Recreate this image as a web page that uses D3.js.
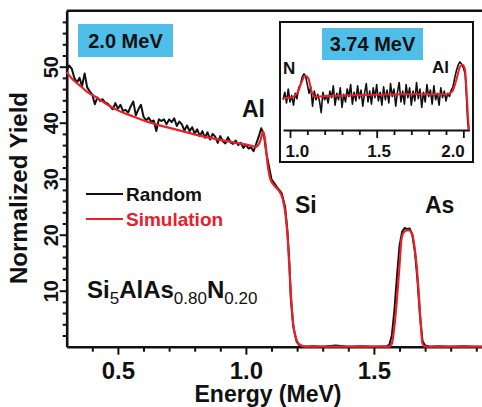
<!DOCTYPE html>
<html>
<head>
<meta charset="utf-8">
<script src="https://cdn.jsdelivr.net/npm/d3@7"></script>
<style>
  body { margin: 0; background: #fff; }
  svg { display: block; font-family: "Liberation Sans", Arial, sans-serif; }
  .axis path, .axis line { stroke: #111; }
</style>
</head>
<body>
<svg id="chart" width="482" height="407"></svg>
<script>
// main spectrum, 2.0 MeV, [energy MeV, normalized yield]
let mainRandom = [[0.30,49.4],[0.31,50.2],[0.32,49.6],[0.33,48.0],[0.34,47.2],[0.35,48.0],[0.36,46.5],[0.37,48.8],[0.38,46.3],[0.39,45.6],
    [0.40,45.0],[0.41,43.3],[0.42,44.5],[0.43,43.9],[0.44,44.2],[0.45,43.6],[0.46,43.4],[0.47,42.9],[0.48,42.4],[0.49,43.5],
    [0.50,42.5],[0.51,43.2],[0.52,42.1],[0.53,42.3],[0.54,41.8],[0.55,42.9],[0.56,43.8],[0.57,41.3],[0.58,42.4],[0.59,43.2],
    [0.60,41.1],[0.61,40.4],[0.62,40.9],[0.63,40.2],[0.64,40.4],[0.65,38.5],[0.66,40.6],[0.67,40.3],[0.68,40.6],[0.69,39.7],
    [0.70,40.6],[0.71,40.1],[0.72,40.8],[0.73,39.4],[0.74,40.2],[0.75,39.7],[0.76,38.6],[0.77,39.5],[0.78,38.5],[0.79,39.2],
    [0.80,38.1],[0.81,38.8],[0.82,37.6],[0.83,38.5],[0.84,37.3],[0.85,38.3],[0.86,37.0],[0.87,38.0],[0.88,37.5],[0.89,36.4],
    [0.90,37.6],[0.91,36.7],[0.92,36.3],[0.93,37.4],[0.94,36.5],[0.95,36.2],[0.96,36.8],[0.97,36.0],[0.98,36.4],[0.99,35.5],
    [1.00,36.1],[1.01,35.4],[1.02,35.6],[1.03,34.9],[1.04,36.2],[1.05,37.5],[1.06,39.0],[1.07,37.9],[1.08,34.5],[1.088,32.7],
    [1.10,29.9],[1.12,28.6],[1.14,27.4],[1.153,25.0],[1.162,20.8],[1.17,14.9],[1.175,8.9],[1.185,3.6],[1.198,0.9],[1.21,0.2],
    [1.23,0],[1.26,0.1],[1.30,0],[1.35,0.2],[1.40,0],[1.45,0.1],[1.50,0],[1.55,0.1],[1.56,0.3],[1.57,2.0],[1.58,6.5],
    [1.59,12.5],[1.60,18.0],[1.61,20.5],[1.62,21.2],[1.63,21.0],[1.64,21.1],[1.65,20.0],[1.66,17.0],[1.67,12.0],[1.68,5.5],
    [1.69,1.0],[1.70,0.2],[1.72,0],[1.75,0.1],[1.80,0],[1.85,0.1],[1.90,0],[1.95,0]]

let mainSimulation = [[0.30,49.0],[0.32,47.9],[0.35,46.7],[0.38,45.5],[0.42,44.4],[0.46,43.2],[0.50,42.2],[0.56,41.1],
    [0.62,40.1],[0.69,39.2],[0.75,38.5],[0.82,37.7],[0.88,37.1],[0.95,36.5],[1.01,36.0],[1.04,35.7],[1.055,36.6],
    [1.068,38.4],[1.076,36.5],[1.085,32.5],[1.095,30.0],[1.11,28.8],[1.13,27.8],[1.145,26.2],[1.155,23.5],[1.163,19.5],
    [1.17,14.0],[1.177,8.5],[1.185,4.0],[1.195,1.6],[1.205,0.6],[1.22,0.15],[1.24,0],[1.56,0],[1.57,0.5],[1.58,3.6],
    [1.59,8.5],[1.60,14.5],[1.608,19.3],[1.618,20.5],[1.635,20.8],[1.648,20.3],[1.658,18.0],[1.667,14.5],[1.676,9.0],
    [1.684,3.5],[1.69,0.5],[1.70,0],[1.95,0]]

// inset spectrum, 3.74 MeV (arbitrary yield units)
let insetRandom = [[0.96,14.0],[0.97,17.5],[0.98,12.5],[0.99,19.0],[1.00,13.0],[1.01,16.0],[1.02,11.5],[1.03,17.0],[1.04,14.5],
    [1.05,19.5],[1.06,21.0],[1.07,24.5],[1.08,26.0],[1.09,25.0],[1.10,21.0],[1.11,17.0],[1.12,20.0],[1.13,11.0],[1.14,18.0],
    [1.15,14.0],[1.16,16.5],[1.17,13.5],[1.18,8.0],[1.19,17.5],[1.20,14.0],[1.21,16.0],[1.22,12.5],[1.23,18.0],[1.24,15.0],
    [1.25,20.5],[1.26,11.5],[1.27,17.0],[1.28,14.0],[1.29,19.5],[1.30,10.5],[1.31,16.5],[1.32,13.0],[1.33,19.0],[1.34,15.5],
    [1.35,21.0],[1.36,12.0],[1.37,17.5],[1.38,13.5],[1.39,20.5],[1.40,14.5],[1.41,18.5],[1.42,11.0],[1.43,17.0],[1.44,21.5],
    [1.45,13.0],[1.46,18.0],[1.47,12.0],[1.48,19.5],[1.49,15.0],[1.50,21.0],[1.51,13.5],[1.52,17.5],[1.53,11.5],[1.54,20.0],
    [1.55,14.0],[1.56,18.5],[1.57,12.5],[1.58,21.5],[1.59,15.5],[1.60,19.0],[1.61,11.0],[1.62,17.5],[1.63,22.0],[1.64,13.0],
    [1.65,18.0],[1.66,12.0],[1.67,21.0],[1.68,15.0],[1.69,19.5],[1.70,11.5],[1.71,18.0],[1.72,13.5],[1.73,22.0],[1.74,14.5],
    [1.75,19.0],[1.76,10.5],[1.77,17.5],[1.78,13.0],[1.79,21.0],[1.80,15.5],[1.81,18.5],[1.82,12.0],[1.83,20.5],[1.84,14.0],
    [1.85,17.0],[1.86,11.5],[1.87,19.5],[1.88,15.0],[1.89,18.0],[1.90,13.5],[1.91,17.0],[1.92,15.5],[1.93,18.5],[1.94,20.0],
    [1.95,24.0],[1.96,27.5],[1.97,30.0],[1.98,31.5],[1.99,30.5],[2.00,29.0],[2.01,26.0],[2.015,20.0],[2.02,12.0],[2.025,4.0],[2.03,0]]

let insetSimulation = [[0.96,14.7],[1.00,14.9],[1.02,15.4],[1.045,17.5],[1.068,22.4],[1.087,25.1],[1.106,23.9],[1.125,17.7],
    [1.145,15.4],[1.23,15.7],[1.42,16.2],[1.71,16.5],[1.90,16.5],[1.935,17.7],[1.962,23.9],[1.981,29.3],[1.997,30.1],
    [2.01,27.8],[2.02,16.2],[2.029,3.8],[2.033,0]]

let mainMajorX = [0.5, 1.0, 1.5]
let mainMinorX = [0.4, 0.6, 0.7, 0.8, 0.9, 1.1, 1.2, 1.3, 1.4, 1.6, 1.7, 1.8, 1.9]
let mainMajorY = [10, 20, 30, 40, 50]
let mainMinorY = [2, 4, 6, 8, 12, 14, 16, 18, 22, 24, 26, 28, 32, 34, 36, 38, 42, 44, 46, 48, 52, 54, 56, 58]
let insetMajorX = [1.0, 1.5, 2.0]
let insetMinorX = [1.1, 1.2, 1.3, 1.4, 1.6, 1.7, 1.8, 1.9]

let legendItems = ['Random', 'Simulation']
let peakLabels = [['Al', 242, 117], ['Si', 295, 213], ['As', 425, 213]]

let black = '#111', red = '#e8202a', boxBlue = '#4fbfe9'

let svg = d3.select('#chart')

let x = d3.scaleLinear().domain([0.3, 1.95]).range([66.7, 489.1])
let y = d3.scaleLinear().domain([0, 60]).range([346.7, 10.7])

let line = d3.line().x(d => x(d[0])).y(d => y(d[1]))

// main axes
svg.append('g').attr('class', 'axis')
    .attr('transform', 'translate(0, 346.7)')
    .call(d3.axisBottom(x).tickValues(mainMinorX).tickSize(5).tickSizeOuter(0).tickFormat(''))
    .call(g => g.select('.domain').remove())
    .selectAll('line').attr('stroke-width', 2)

let xMajor = svg.append('g').attr('class', 'axis')
    .attr('transform', 'translate(0, 346.7)')
    .call(d3.axisBottom(x).tickValues(mainMajorX).tickSize(8).tickSizeOuter(0).tickFormat(d3.format('.1f')))
xMajor.select('.domain').attr('stroke-width', 2.6)
xMajor.selectAll('line').attr('stroke-width', 2)
xMajor.selectAll('text')
    .attr('y', 32).attr('dy', 0)
    .style('font-size', '24px').style('font-weight', 'bold').attr('fill', black)

svg.append('g').attr('class', 'axis')
    .attr('transform', 'translate(66.7, 0)')
    .call(d3.axisLeft(y).tickValues(mainMinorY).tickSize(4).tickSizeOuter(0).tickFormat(''))
    .call(g => g.select('.domain').remove())
    .selectAll('line').attr('stroke-width', 2)

let yMajor = svg.append('g').attr('class', 'axis')
    .attr('transform', 'translate(66.7, 0)')
    .call(d3.axisLeft(y).tickValues(mainMajorY).tickSize(7).tickSizeOuter(0))
yMajor.select('.domain').attr('stroke-width', 2.6)
yMajor.selectAll('line').attr('stroke-width', 2)
yMajor.selectAll('text')
    .attr('transform', 'rotate(-90)')
    .attr('x', 0).attr('y', -9).attr('dy', 0)
    .attr('text-anchor', 'middle')
    .style('font-size', '20px').style('font-weight', 'bold').attr('fill', black)

svg.append('line')
    .attr('x1', x.range()[0]).attr('x2', 482)
    .attr('y1', y(60)).attr('y2', y(60))
    .attr('stroke', black).attr('stroke-width', 2.6)

svg.append('text')
    .attr('x', 268).attr('y', 402)
    .attr('text-anchor', 'middle')
    .style('font-size', '23px').style('font-weight', 'bold')
    .attr('fill', black)
    .text('Energy (MeV)')

svg.append('text')
    .attr('transform', 'translate(27, 188) rotate(-90)')
    .attr('text-anchor', 'middle')
    .style('font-size', '24px').style('font-weight', 'bold')
    .attr('fill', black)
    .text('Normalized Yield')

// spectra
svg.append('path').datum(mainRandom)
    .attr('d', line)
    .attr('fill', 'none').attr('stroke', black).attr('stroke-width', 2).attr('stroke-linejoin', 'round')

svg.append('path').datum(mainSimulation)
    .attr('d', line.curve(d3.curveMonotoneX))
    .attr('fill', 'none').attr('stroke', red).attr('stroke-width', 2.2)

// energy box
svg.append('rect')
    .attr('x', 78).attr('y', 24).attr('width', 95).attr('height', 33)
    .attr('fill', boxBlue)
svg.append('text')
    .attr('x', 125.5).attr('y', 47.5)
    .attr('text-anchor', 'middle')
    .style('font-size', '20px').style('font-weight', 'bold').attr('fill', black)
    .text('2.0 MeV')

// legend
let legend = svg.append('g').selectAll('g')
    .data(legendItems).join('g')
    .attr('transform', (d, i) => `translate(86, ${194 + i * 25})`)
legend.append('line')
    .attr('x1', 0).attr('x2', 37)
    .attr('stroke', (d, i) => i ? red : black).attr('stroke-width', 2.2)
legend.append('text')
    .attr('x', 40).attr('y', 7)
    .style('font-size', '19px').style('font-weight', 'bold')
    .attr('fill', (d, i) => i ? red : black)
    .text(d => d)

// peak labels
svg.append('g').selectAll('text')
    .data(peakLabels).join('text')
    .attr('x', d => d[1]).attr('y', d => d[2])
    .style('font-size', '23px').style('font-weight', 'bold').attr('fill', black)
    .text(d => d[0])

// compound formula
let formula = svg.append('text')
    .attr('x', 87).attr('y', 298)
    .style('font-size', '24px').style('font-weight', 'bold').attr('fill', black)
formula.append('tspan').text('Si')
formula.append('tspan').attr('dy', 6).style('font-size', '17px').style('font-weight', 'normal').text('5')
formula.append('tspan').attr('dy', -6).text('AlAs')
formula.append('tspan').attr('dy', 6).style('font-size', '17px').style('font-weight', 'normal').text('0.80')
formula.append('tspan').attr('dy', -6).text('N')
formula.append('tspan').attr('dy', 6).style('font-size', '17px').style('font-weight', 'normal').text('0.20')

// inset
let xi = d3.scaleLinear().domain([0.96, 2.035]).range([283.07, 469.4])
let yi = d3.scaleLinear().domain([0, 50]).range([130, 22])
let insetLine = d3.line().x(d => xi(d[0])).y(d => yi(d[1]))

svg.append('rect')
    .attr('x', 280).attr('y', 22).attr('width', 193).attr('height', 140)
    .attr('fill', '#fff').attr('stroke', black).attr('stroke-width', 2)

svg.append('rect')
    .attr('x', 322).attr('y', 28).attr('width', 101).attr('height', 32)
    .attr('fill', boxBlue)
svg.append('text')
    .attr('x', 372.5).attr('y', 51)
    .attr('text-anchor', 'middle')
    .style('font-size', '20px').style('font-weight', 'bold').attr('fill', black)
    .text('3.74 MeV')

svg.append('g').attr('class', 'axis')
    .attr('transform', 'translate(0, 130)')
    .call(d3.axisBottom(xi).tickValues(insetMinorX).tickSize(5).tickSizeOuter(0).tickFormat(''))
    .call(g => g.select('.domain').remove())
    .selectAll('line').attr('stroke-width', 1.8)

let xiMajor = svg.append('g').attr('class', 'axis')
    .attr('transform', 'translate(0, 130)')
    .call(d3.axisBottom(xi).tickValues(insetMajorX).tickSize(8).tickSizeOuter(0).tickFormat(d3.format('.1f')))
xiMajor.select('.domain').attr('stroke-width', 2)
xiMajor.selectAll('line').attr('stroke-width', 1.8)
xiMajor.selectAll('text')
    .attr('y', 27).attr('dy', 0)
    .attr('text-anchor', (d, i) => i == 0 ? 'start' : i == insetMajorX.length - 1 ? 'end' : 'middle')
    .attr('dx', (d, i) => i == 0 ? -5 : i == insetMajorX.length - 1 ? 1 : 2)
    .style('font-size', '17px').style('font-weight', 'bold').attr('fill', black)

svg.append('path').datum(insetRandom)
    .attr('d', insetLine)
    .attr('fill', 'none').attr('stroke', black).attr('stroke-width', 1.6).attr('stroke-linejoin', 'round')

svg.append('path').datum(insetSimulation)
    .attr('d', insetLine.curve(d3.curveMonotoneX))
    .attr('fill', 'none').attr('stroke', red).attr('stroke-width', 2)

svg.append('text').attr('x', 283).attr('y', 74)
    .style('font-size', '17px').style('font-weight', 'bold').attr('fill', black)
    .text('N')
svg.append('text').attr('x', 432).attr('y', 73)
    .style('font-size', '17px').style('font-weight', 'bold').attr('fill', black)
    .text('Al')
</script>
</body>
</html>
